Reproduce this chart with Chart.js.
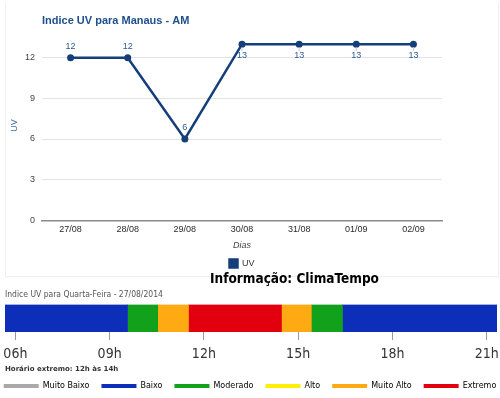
<!DOCTYPE html>
<html><head><meta charset="utf-8">
<script src="https://cdn.jsdelivr.net/npm/chart.js@4.4.0/dist/chart.umd.min.js"></script>
<style>
html,body{margin:0;padding:0;background:#fff;width:500px;height:398px;overflow:hidden;position:relative;}
#frame{position:absolute;left:5px;top:3px;width:494px;height:274px;border:1px solid #eceff3;border-top:none;box-sizing:border-box;}
#c1{position:absolute;left:0;top:0;}
#info{position:absolute;left:210px;top:270px;font:bold 13.5px 'DejaVu Sans Condensed','DejaVu Sans',sans-serif;color:#000;white-space:nowrap;}
#c2{position:absolute;left:-10px;top:284px;}
</style></head><body>
<div id="frame"></div>
<canvas id="c1" width="500" height="278"></canvas>
<div id="info">Informação: ClimaTempo</div>
<canvas id="c2" width="520" height="116"></canvas>
<script>
// ---- top chart data ----
const days = ['27/08','28/08','29/08','30/08','31/08','01/09','02/09'];
const uvValues = [12, 12, 6, 13, 13, 13, 13];
const uvTicks = [0, 3, 6, 9, 12];

// ---- bottom bar data (hours) ----
const hourTicks = [6, 9, 12, 15, 18, 21];
const hourLabels = ['06h', '09h', '12h', '15h', '18h', '21h'];
const segStart = [5.5, 9.57, 10.53, 11.51, 14.47, 15.42, 16.41];
const segEnd = [9.57, 10.53, 11.51, 14.47, 15.42, 16.41, 21.5];
const segLevel = ['Baixo', 'Moderado', 'Muito Alto', 'Extremo', 'Muito Alto', 'Moderado', 'Baixo'];
const levels = ['Muito Baixo', 'Baixo', 'Moderado', 'Alto', 'Muito Alto', 'Extremo'];
const levelColors = ['#aaa8ab', '#0c2eb9', '#11a11a', '#ffef00', '#ffaa12', '#e2000e'];

const SANS = "'Liberation Sans', Arial, sans-serif";
const DV = "'DejaVu Sans', sans-serif";
const DVC = "'DejaVu Sans Condensed', 'DejaVu Sans', sans-serif";

const pointLabels = {
  id: 'pointLabels',
  afterDatasetsDraw(chart) {
    const ctx = chart.ctx;
    const meta = chart.getDatasetMeta(0);
    const area = chart.chartArea;
    ctx.save();
    ctx.font = '9px ' + SANS;
    ctx.fillStyle = '#2d5a94';
    ctx.textAlign = 'center';
    ctx.textBaseline = 'middle';
    meta.data.forEach((pt, i) => {
      const txt = String(chart.data.datasets[0].data[i]);
      let y = pt.y - 11;
      if (y - 5 < area.top) {
        ctx.strokeStyle = '#c3cddb';
        ctx.lineWidth = 1;
        ctx.beginPath();
        ctx.moveTo(pt.x, pt.y + 3);
        ctx.lineTo(pt.x, pt.y + 7);
        ctx.stroke();
        y = pt.y + 11;
      }
      ctx.fillText(txt, pt.x, y);
    });
    ctx.restore();
  }
};

new Chart(document.getElementById('c1'), {
  type: 'line',
  data: {
    labels: days,
    datasets: [{
      label: 'UV',
      data: uvValues,
      borderColor: '#143f7a',
      backgroundColor: '#143f7a',
      borderWidth: 2.5,
      pointRadius: 3.5,
      pointBackgroundColor: '#143f7a',
      pointBorderWidth: 0,
      tension: 0
    }]
  },
  options: {
    responsive: false,
    animation: false,
    layout: { padding: { left: 6, right: 58, top: 14.4, bottom: 0 } },
    plugins: {
      title: {
        display: true, text: 'Indice UV para Manaus - AM', align: 'start', fullSize: false,
        color: '#1d4f8c', font: { family: SANS, size: 11, weight: 'bold' },
        padding: { top: 0, bottom: 3 }
      },
      legend: {
        position: 'bottom', fullSize: false,
        onClick: () => {},
        labels: { boxWidth: 8, boxHeight: 8, color: '#333', font: { family: SANS, size: 9 }, padding: 6 }
      },
      tooltip: { enabled: false }
    },
    scales: {
      x: {
        offset: true,
        grid: { display: false, drawTicks: false },
        border: { display: true, color: '#8a8a8a', width: 1.5 },
        ticks: { color: '#2a2a2a', font: { family: SANS, size: 9 }, padding: 4, maxRotation: 0 },
        title: { display: true, text: 'Dias', color: '#444', font: { family: SANS, size: 9, style: 'italic' }, padding: { top: 0.8, bottom: 2.3 } }
      },
      y: {
        min: 0, max: 14,
        afterBuildTicks(scale) { scale.ticks = uvTicks.map(v => ({ value: v })); },
        grid: { color: '#e3e3e3', drawTicks: false },
        border: { display: false },
        ticks: { color: '#444', font: { family: SANS, size: 9 }, padding: 7 },
        title: { display: true, text: 'UV', color: '#4a72a8', font: { family: SANS, size: 9, lineHeight: 0.6 }, padding: { top: 6.3, bottom: 0.3 } }
      }
    }
  },
  plugins: [pointLabels]
});

const barDatasets = segStart.map((s, i) => ({
  label: segLevel[i],
  data: [[s, segEnd[i]]],
  backgroundColor: levelColors[levels.indexOf(segLevel[i])],
  borderWidth: 0,
  barPercentage: 1,
  categoryPercentage: 1,
  grouped: false
}));

new Chart(document.getElementById('c2'), {
  type: 'bar',
  data: { labels: ['UV'], datasets: barDatasets },
  options: {
    responsive: false,
    animation: false,
    indexAxis: 'y',
    layout: { autoPadding: false, padding: 0 },
    plugins: {
      title: {
        display: true, text: 'Indice UV para Quarta-Feira - 27/08/2014', align: 'start', fullSize: false,
        color: '#555', font: { family: DVC, size: 8.5, weight: 'normal' }, padding: { top: 5.2, bottom: 5.2 }
      },
      subtitle: {
        display: true, position: 'bottom', weight: 500, align: 'start', fullSize: false,
        text: 'Horário extremo: 12h às 14h', color: '#333',
        font: { family: DV, size: 7, weight: 'bold', lineHeight: 0.2 },
        padding: { top: 0.3, bottom: 0.3 }
      },
      legend: {
        position: 'bottom', weight: 1000,
        onClick: () => {},
        labels: {
          boxWidth: 35, boxHeight: 4, color: '#666', font: { family: DV, size: 8 }, padding: 12,
          generateLabels: () => levels.map((l, i) => ({
            text: l, fillStyle: levelColors[i], strokeStyle: levelColors[i], lineWidth: 0, hidden: false, datasetIndex: i
          }))
        }
      },
      tooltip: { enabled: false }
    },
    scales: {
      x: {
        type: 'linear', min: 5.67, max: 21.33,
        afterBuildTicks(scale) { scale.ticks = hourTicks.map(v => ({ value: v })); },
        grid: { drawOnChartArea: false, tickLength: 8, color: '#999' },
        border: { display: false },
        ticks: {
          color: '#333', padding: 7,
          font: { family: DVC, size: 14, lineHeight: 1 },
          callback: (v) => hourLabels[hourTicks.indexOf(v)]
        }
      },
      y: {
        display: true,
        grid: { display: false, drawTicks: false },
        border: { display: false },
        ticks: { display: false },
        afterFit(scale) { scale.width = 15; }
      },
      yR: {
        type: 'category', labels: ['UV'], position: 'right', display: true,
        grid: { display: false, drawTicks: false },
        border: { display: false },
        ticks: { display: false },
        afterFit(scale) { scale.width = 13; }
      }
    }
  }
});
</script>
</body></html>
